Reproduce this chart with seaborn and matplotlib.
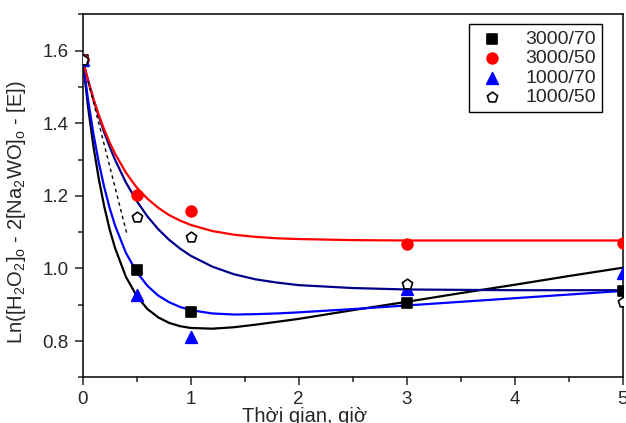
import matplotlib
matplotlib.use('Agg')
import matplotlib.pyplot as plt
import seaborn as sns
import pandas as pd
from matplotlib.ticker import MultipleLocator

# %% dados medidos (pontos)
t_pts = [0, 0.5, 1, 3, 5]
y_3000_70 = [1.575, 0.996, 0.881, 0.906, 0.939]
y_3000_50 = [1.575, 1.203, 1.159, 1.067, 1.069]
y_1000_70 = [1.575, 0.927, 0.811, 0.944, 0.988]
y_1000_50 = [1.575, 1.141, 1.086, 0.958, 0.908]

# %% curvas ajustadas
t_fit = [0, 0.05, 0.1, 0.15, 0.2, 0.25, 0.3, 0.4, 0.5, 0.6, 0.7, 0.8, 0.9, 1.0,
         1.2, 1.4, 1.6, 1.8, 2.0, 2.5, 3.0, 3.5, 4.0, 4.5, 5.0]
fit_red = [1.575, 1.518, 1.467, 1.422, 1.382, 1.347, 1.316, 1.264, 1.223, 1.192, 1.167,
           1.147, 1.132, 1.120, 1.103, 1.093, 1.087, 1.083, 1.081, 1.078, 1.077, 1.077,
           1.077, 1.077, 1.077]
fit_navy = [1.575, 1.518, 1.465, 1.418, 1.374, 1.335, 1.299, 1.237, 1.186, 1.143, 1.108,
            1.079, 1.055, 1.035, 1.005, 0.984, 0.970, 0.961, 0.954, 0.946, 0.942, 0.941,
            0.940, 0.940, 0.940]
fit_black = [1.575, 1.444, 1.335, 1.245, 1.170, 1.107, 1.056, 0.977, 0.924, 0.888, 0.865,
             0.850, 0.841, 0.836, 0.834, 0.838, 0.845, 0.853, 0.861, 0.885, 0.908, 0.932,
             0.955, 0.979, 1.002]
fit_blue = [1.575, 1.464, 1.370, 1.290, 1.223, 1.166, 1.118, 1.043, 0.990, 0.952, 0.925,
            0.907, 0.894, 0.885, 0.876, 0.873, 0.874, 0.876, 0.879, 0.888, 0.898, 0.908,
            0.918, 0.928, 0.938]

# tangente inicial (tracejada)
t_tan = [0.05, 0.41]
y_tan = [1.516, 1.094]

sns.set_style('ticks')
plt.rcParams['font.family'] = ['Liberation Sans', 'DejaVu Sans']
plt.rcParams['mathtext.default'] = 'regular'

fig = plt.figure(figsize=(6.26, 4.23), dpi=100)
ax = fig.add_axes([0.1321, 0.108, 0.8626, 0.858])

# curvas
curvas = [(fit_black, 'black'), (fit_blue, '#0000FF'), (fit_navy, '#00008B'), (fit_red, '#FF0000')]
for yy, cor in curvas:
    sns.lineplot(x=t_fit, y=yy, color=cor, lw=1.6, ax=ax, legend=False)
ax.plot(t_tan, y_tan, color='black', lw=1.0, ls=(0, (2.5, 2.5)))

# pontos
series = [
    ('3000/70', y_3000_70, 's', 'black', 'black', 45),
    ('3000/50', y_3000_50, 'o', '#FF0000', '#FF0000', 60),
    ('1000/70', y_1000_70, '^', '#0000FF', '#0000FF', 70),
    ('1000/50', y_1000_50, 'p', 'white', 'black', 60),
]
for nome, yy, mk, fc, ec, s in series:
    df = pd.DataFrame({'t': t_pts, 'y': yy})
    sns.scatterplot(data=df, x='t', y='y', marker=mk, color=fc, edgecolor=ec,
                    linewidth=1.2, s=s, ax=ax, label=nome, zorder=5)

ax.set_xlim(0, 5)
ax.set_ylim(0.7, 1.7)
ax.xaxis.set_major_locator(MultipleLocator(1))
ax.xaxis.set_minor_locator(MultipleLocator(0.5))
ax.yaxis.set_major_locator(MultipleLocator(0.2))
ax.yaxis.set_minor_locator(MultipleLocator(0.1))
ax.set_yticks([0.8, 1.0, 1.2, 1.4, 1.6])
ax.tick_params(which='major', direction='out', length=6, width=1.1, labelsize=13.5, pad=4)
ax.tick_params(which='minor', direction='out', length=3.5, width=1.1)
for sp in ax.spines.values():
    sp.set_visible(True)
    sp.set_linewidth(1.1)
    sp.set_color('black')

ax.set_xlabel('Thời gian, giờ', fontsize=14.5)
ax.xaxis.set_label_coords(0.41, -0.083)
ax.set_ylabel(r'Ln([H$_2$O$_2$]$_o$ - 2[Na$_2$WO]$_o$ - [E])', fontsize=14.5)
ax.yaxis.set_label_coords(-0.102, 0.455)

leg = ax.legend(loc='upper right', bbox_to_anchor=(0.961, 0.973), borderaxespad=0,
                fontsize=14, frameon=True, fancybox=False, framealpha=1,
                edgecolor='black', handletextpad=0.8, borderpad=0.3, labelspacing=0.1,
                handlelength=1.8)
leg.get_frame().set_linewidth(1.0)

fig.savefig('out.png', dpi=100)
